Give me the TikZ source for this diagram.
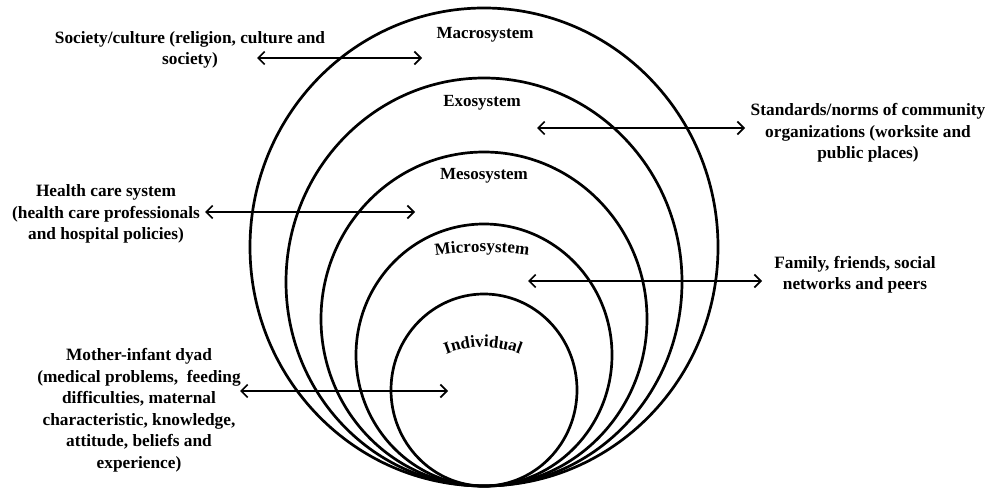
\documentclass[tikz,border=0pt]{standalone}
\usepackage{fontspec}
\setmainfont{Liberation Serif}
\usetikzlibrary{arrows.meta,positioning,decorations.text}
\newcommand{\sysfont}{\bfseries\fontsize{17}{19}\selectfont}

\begin{document}
\begin{tikzpicture}[x=1pt,y=-1pt,
   ring/.style={line width=2.7pt},
   link/.style={line width=1.7pt,{Straight Barb[length=6.5pt,width=13pt]}-{Straight Barb[length=6.5pt,width=13pt]}},
   note/.style={font=\bfseries\fontsize{17.3}{21.5}\selectfont,align=center,inner sep=1pt},
   sysname/.style={font=\sysfont,inner sep=1pt}]
  \useasboundingbox (0,0) rectangle (990,489);
  % nested rings, all touching at the bottom
  \foreach \rx/\ry in {234/239,198/204,163/167,128/131,93/96}{
    \draw[ring] (484,{486-\ry}) ellipse [x radius=\rx pt, y radius=\ry pt];
  }
  \node[sysname] (macro) at (485,35) {Macrosystem};
  \node[sysname] (exo)   at (482,103) {Exosystem};
  \node[sysname] (meso)  at (484,176) {Mesosystem};
  % curved names
  \path[decorate,decoration={text along path,text align=center,
      text={|\sysfont|Microsystem}}]
      ([shift={(482,559)}]104:307pt) arc[start angle=104,end angle=76,radius=307pt];
  \path[decorate,decoration={text along path,text align=center,
      text={|\sysfont|Individual}}]
      ([shift={(483,447)}]140:100pt) arc[start angle=140,end angle=40,radius=100pt];

  % outside notes
  \node[note] (society) at (190,50) {Society/culture (religion, culture and\\society)};
  \node[note] (health) at (106,214) {Health care system\\(health care professionals\\and hospital policies)};
  \node[note] (mother) at (139,410) {Mother-infant dyad\\(medical problems,\ \ feeding\\difficulties, maternal\\characteristic, knowledge,\\attitude, beliefs and\\experience)};
  \node[note] (norms) at (868,133) {Standards/norms of community\\organizations (worksite and\\public places)};
  \node[note] (family) at (855,275) {Family, friends, social\\networks and peers};

  \coordinate (soc-a) at (257,58);  \coordinate (soc-b) at (422,58);
  \coordinate (hc-a)  at (205,212); \coordinate (hc-b)  at (415,212);
  \coordinate (mom-a) at (240,391); \coordinate (mom-b) at (448,391);
  \coordinate (std-a) at (537,128); \coordinate (std-b) at (745,128);
  \coordinate (fam-a) at (528,281); \coordinate (fam-b) at (762,281);
  \foreach \a in {soc,hc,mom,std,fam}{
    \draw[link] (\a-a) -- (\a-b);
  }
\end{tikzpicture}
\end{document}
